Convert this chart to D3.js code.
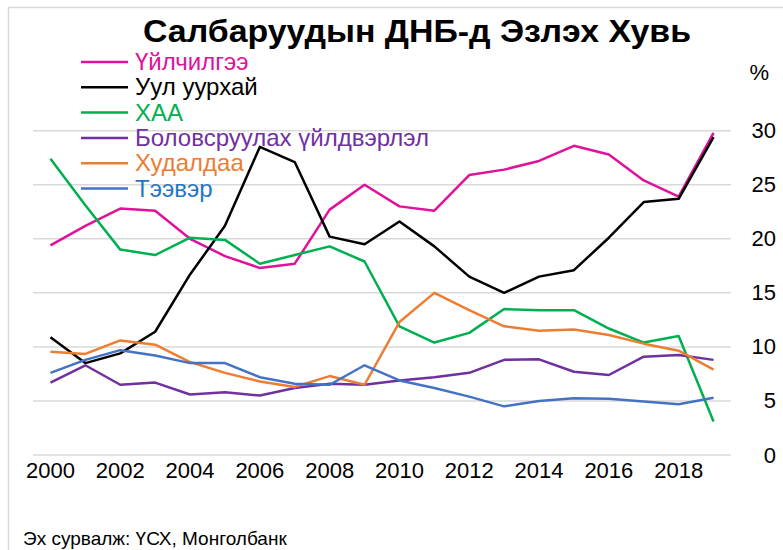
<html>
<head>
  <meta charset="utf-8">
  <script src="https://d3js.org/d3.v7.min.js"></script>
  <style>
    body { margin: 0; background: #fff; }
    text { font-family: Arial, 'Liberation Sans', Helvetica, sans-serif; }
  </style>
</head>
<body>
<svg id="chart" width="783" height="550"></svg>
<script>
var years = d3.range(2000, 2020)
var yTicks = [0, 5, 10, 15, 20, 25, 30]
var xTickYears = [2000, 2002, 2004, 2006, 2008, 2010, 2012, 2014, 2016, 2018]

var uilchilgee = [19.4, 21.2, 22.8, 22.6, 20.0, 18.4, 17.3, 17.7, 22.7, 25.0, 23.0, 22.6, 25.9, 26.4, 27.2, 28.6, 27.8, 25.4, 23.9, 29.8]
var uulUurhai = [10.9, 8.5, 9.4, 11.4, 16.7, 21.2, 28.5, 27.1, 20.2, 19.5, 21.6, 19.3, 16.5, 15.0, 16.5, 17.1, 20.1, 23.4, 23.7, 29.4]
var khaa = [27.4, 23.1, 19.0, 18.5, 20.1, 19.9, 17.7, 18.5, 19.3, 17.9, 11.9, 10.4, 11.3, 13.5, 13.4, 13.4, 11.7, 10.4, 11.0, 3.1]
var bolovsruulah = [6.7, 8.3, 6.5, 6.7, 5.6, 5.8, 5.5, 6.2, 6.6, 6.5, 6.9, 7.2, 7.6, 8.8, 8.85, 7.7, 7.4, 9.1, 9.25, 8.8]
var khudaldaa = [9.55, 9.35, 10.6, 10.2, 8.6, 7.6, 6.8, 6.3, 7.3, 6.5, 12.3, 15.0, 13.4, 11.9, 11.5, 11.6, 11.1, 10.3, 9.65, 7.9]
var teever = [7.6, 8.8, 9.7, 9.2, 8.5, 8.5, 7.2, 6.6, 6.5, 8.3, 6.9, 6.2, 5.4, 4.5, 5.0, 5.25, 5.2, 4.95, 4.7, 5.3]

var seriesNames = ['Үйлчилгээ', 'Уул уурхай', 'ХАА', 'Боловсруулах үйлдвэрлэл', 'Худалдаа', 'Тээвэр']
var seriesValues = [uilchilgee, uulUurhai, khaa, bolovsruulah, khudaldaa, teever]
var lineColors = ['#E0119A', '#000000', '#00B050', '#7030A0', '#ED7D31', '#4472C4']
var textColors = ['#E0119A', '#000000', '#00B050', '#7030A0', '#ED7D31', '#1F77C4']

var svg = d3.select('#chart')

// outer chart border
svg.append('rect')
  .attr('x', 8.5).attr('y', 7.5)
  .attr('width', 800).attr('height', 600)
  .attr('fill', 'none')
  .attr('stroke', '#d9d9d9')
  .attr('stroke-width', 1.5)

var plot = { left: 33, right: 731, top: 130.7, bottom: 455 }

var x = d3.scaleBand()
  .domain(years)
  .range([plot.left, plot.right])
var y = d3.scaleLinear()
  .domain([0, 30])
  .range([plot.bottom, plot.top])

// gridlines
svg.append('g')
  .selectAll('line')
  .data(yTicks)
  .enter().append('line')
  .attr('x1', plot.left).attr('x2', plot.right)
  .attr('y1', function (d) { return y(d) })
  .attr('y2', function (d) { return y(d) })
  .attr('stroke', '#d9d9d9')
  .attr('stroke-width', 1.5)

// y axis labels on the right
var yAxis = d3.axisRight(y).tickValues(yTicks).tickSize(0).tickPadding(0)
var yg = svg.append('g')
  .attr('transform', 'translate(776,0)')
  .call(yAxis)
yg.select('.domain').remove()
yg.selectAll('text')
  .attr('text-anchor', 'end')
  .attr('font-size', 22)
  .attr('font-family', 'Arial, Liberation Sans, sans-serif')
  .attr('fill', '#000')

svg.append('text')
  .attr('x', 769).attr('y', 80)
  .attr('text-anchor', 'end')
  .attr('font-size', 22)
  .text('%')

// x axis labels
var xAxis = d3.axisBottom(x).tickValues(xTickYears).tickSize(0).tickPadding(0)
var xg = svg.append('g')
  .attr('transform', 'translate(0,462)')
  .call(xAxis)
xg.select('.domain').remove()
xg.selectAll('text')
  .attr('font-size', 22)
  .attr('font-family', 'Arial, Liberation Sans, sans-serif')
  .attr('fill', '#000')

// series lines
var line = d3.line()
  .x(function (d, i) { return x(years[i]) + x.bandwidth() / 2 })
  .y(function (d) { return y(d) })

svg.append('g')
  .selectAll('path')
  .data(seriesValues)
  .enter().append('path')
  .attr('d', function (d) { return line(d) })
  .attr('fill', 'none')
  .attr('stroke', function (d, i) { return lineColors[i] })
  .attr('stroke-width', 2.5)
  .attr('stroke-linejoin', 'round')

// title
svg.append('text')
  .attr('x', 143).attr('y', 42)
  .attr('font-size', 32)
  .attr('font-weight', 'bold')
  .attr('textLength', 548)
  .attr('lengthAdjust', 'spacingAndGlyphs')
  .text('Салбаруудын ДНБ-д Эзлэх Хувь')

// legend
var legend = svg.append('g')
  .selectAll('g')
  .data(seriesNames)
  .enter().append('g')
  .attr('transform', function (d, i) { return 'translate(81,' + (62 + i * 25.3) + ')' })
legend.append('line')
  .attr('x1', 0).attr('x2', 47)
  .attr('stroke', function (d, i) { return lineColors[i] })
  .attr('stroke-width', 2.5)
legend.append('text')
  .attr('x', 54).attr('y', 8)
  .attr('font-size', 24)
  .attr('fill', function (d, i) { return textColors[i] })
  .text(function (d) { return d })

// source note
svg.append('text')
  .attr('x', 23).attr('y', 545)
  .attr('font-size', 19)
  .text('Эх сурвалж: ҮСХ, Монголбанк')
</script>
</body>
</html>
